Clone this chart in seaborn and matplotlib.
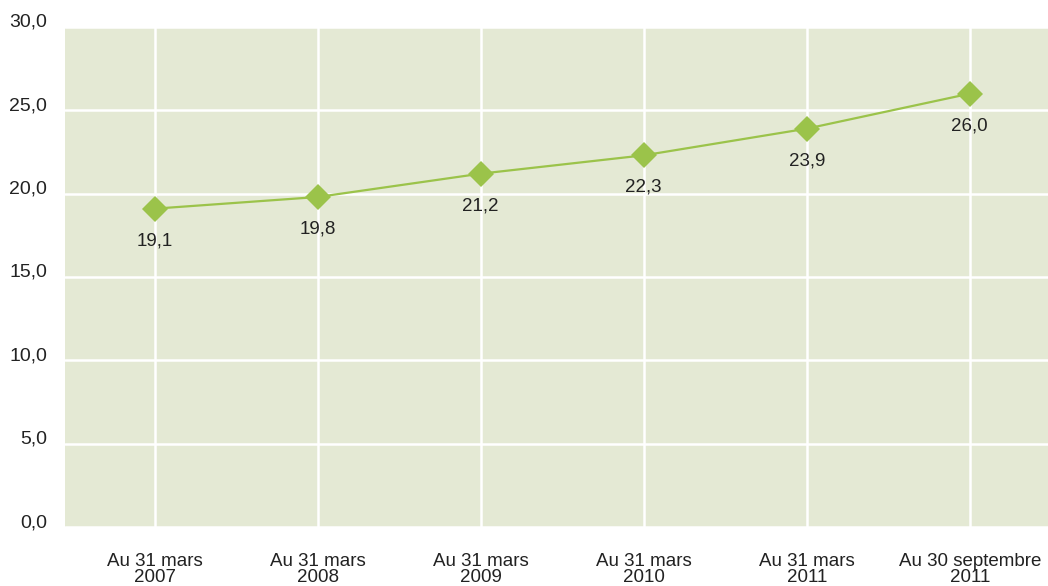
import numpy as np
import pandas as pd
import matplotlib.pyplot as plt
import seaborn as sns

# data
categories = ["Au 31 mars\n2007", "Au 31 mars\n2008", "Au 31 mars\n2009",
              "Au 31 mars\n2010", "Au 31 mars\n2011", "Au 30 septembre\n2011"]
values = [19.1, 19.8, 21.2, 22.3, 23.9, 26.0]
y_ticks = [0, 5, 10, 15, 20, 25, 30]

df = pd.DataFrame({"pos": np.arange(len(categories)), "value": values})

sns.set_style("white")
plt.rcParams["font.family"] = ["Liberation Sans", "DejaVu Sans"]

fig = plt.figure(figsize=(10.48, 5.86), dpi=100)
ax = fig.add_axes([65 / 1048, 1 - 527 / 586, 983 / 1048, 500 / 586])
ax.set_facecolor("#e4e9d4")

line_color = "#9bc34a"
sns.lineplot(data=df, x="pos", y="value", ax=ax, color=line_color,
             linewidth=1.6, marker="D", markersize=13, markeredgewidth=0,
             zorder=3)

for x, v in zip(df["pos"], values):
    ax.annotate(f"{v:.1f}".replace(".", ","), (x, v), xytext=(0, -23),
                textcoords="offset points", ha="center", va="center",
                fontsize=13.5, color="#222222")

ax.set_xlim(-0.55, len(categories) - 0.52)
ax.set_ylim(0, 30)
ax.set_xticks(df["pos"])
ax.set_xticklabels(categories, fontsize=13.5, color="#222222", linespacing=0.9)
ax.set_yticks(y_ticks)
ax.set_yticklabels([f"{t:.1f}".replace(".", ",") for t in y_ticks],
                   fontsize=14, color="#222222", va="baseline")
ax.tick_params(axis="y", length=0, pad=13)
ax.tick_params(axis="x", length=0, pad=19)

ax.grid(True, color="white", linewidth=1.8)
ax.set_axisbelow(True)
for s in ax.spines.values():
    s.set_visible(False)
ax.set_xlabel("")
ax.set_ylabel("")

fig.savefig("out.png", dpi=100)
